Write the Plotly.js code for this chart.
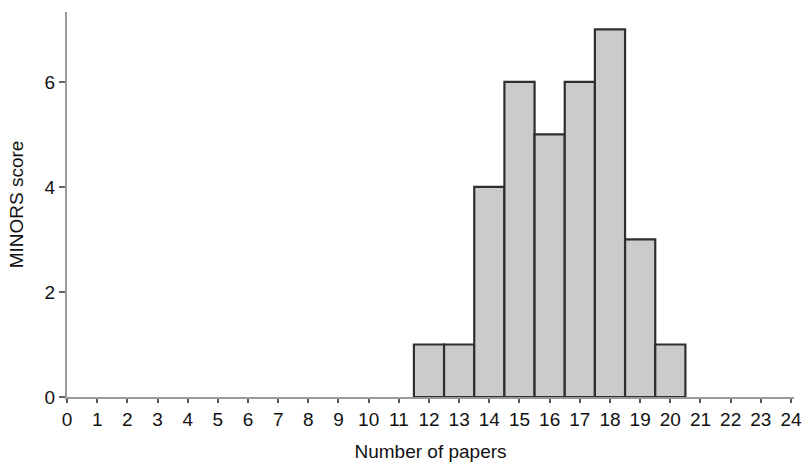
<!DOCTYPE html>
<html>
<head>
<meta charset="utf-8">
<script src="https://cdn.plot.ly/plotly-3.0.1.min.js"></script>
<style>
  html, body { margin: 0; padding: 0; background: #fff; }
  #chart { width: 810px; height: 465px; }
</style>
</head>
<body>
<div id="chart"></div>
<script>
const papers = [12, 13, 14, 15, 16, 17, 18, 19, 20];
const counts = [1, 1, 4, 6, 5, 6, 7, 3, 1];
const xTicks = Array.from({ length: 25 }, (_, i) => i);
const yTicks = [0, 2, 4, 6];

const bars = {
    x: papers,
    y: counts,
    type: 'bar',
    width: 1,
    marker: { color: '#cbcbcb', line: { color: '#2e2e2e', width: 2.2 } },
    hoverinfo: 'x+y'
};

const layout = {
    width: 810,
    height: 465,
    margin: { l: 67, r: 16, t: 12, b: 68 },
    paper_bgcolor: '#fff',
    plot_bgcolor: '#fff',
    font: { family: 'Liberation Sans, Arial, sans-serif', size: 19, color: '#111' },
    showlegend: false,
    bargap: 0,
    xaxis: {
        range: [0, 24.1],
        tickvals: xTicks,
        ticktext: xTicks.map(String),
        ticks: 'outside',
        ticklen: 4,
        tickwidth: 2,
        tickcolor: '#555',
        showline: true,
        linecolor: '#9a9a9a',
        linewidth: 2,
        showgrid: false,
        zeroline: false,
        tickfont: { size: 19 },
        title: { text: 'Number of papers', font: { size: 19 }, standoff: 16 }
    },
    yaxis: {
        range: [0, 7.33],
        tickvals: yTicks,
        ticks: 'outside',
        ticklen: 6,
        tickwidth: 1.5,
        tickcolor: '#666',
        showline: true,
        linecolor: '#9a9a9a',
        linewidth: 2,
        showgrid: false,
        zeroline: false,
        tickfont: { size: 19 },
        title: { text: 'MINORS score', font: { size: 19 }, standoff: 16 }
    }
};

Plotly.newPlot('chart', [bars], layout, { displayModeBar: false, staticPlot: true });
</script>
</body>
</html>
